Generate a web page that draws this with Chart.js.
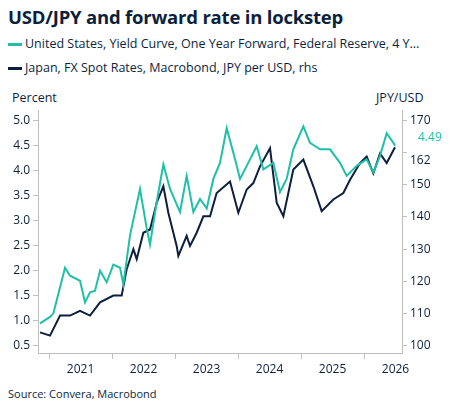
<!DOCTYPE html>
<html><head><meta charset="utf-8">
<script src="https://cdn.jsdelivr.net/npm/chart.js@4"></script>
<style>
body{margin:0;width:455px;height:416px;font-family:"Open Sans",sans-serif;color:#0c1f3d;background:#fff;position:relative;overflow:hidden}
.t{position:absolute;left:8px;top:4px;font-size:18.5px;font-weight:bold;letter-spacing:-0.2px}
.l{position:absolute;left:8px;font-size:12.5px;white-space:nowrap}
.l span{display:inline-block;width:14px;height:3px;vertical-align:middle;margin-right:3px}
.a{position:absolute;top:89px;font-size:12.5px}
.s{position:absolute;left:8px;top:386px;font-size:11px}
#w{position:absolute;left:0;top:100px;width:455px;height:280px}
</style></head><body>
<div class="t">USD/JPY and forward rate in lockstep</div>
<div class="l" style="top:35px"><span style="background:#20c0a8"></span>United States, Yield Curve, One Year Forward, Federal Reserve, 4 Y...</div>
<div class="l" style="top:59px"><span style="background:#0c1f3d"></span>Japan, FX Spot Rates, Macrobond, JPY per USD, rhs</div>
<div class="a" style="left:12px">Percent</div>
<div class="a" style="left:376px">JPY/USD</div>
<div class="s">Source: Convera, Macrobond</div>
<div id="w"><canvas id="c"></canvas></div>
<script>
const usDates=[2020.857,2021.016,2021.069,2021.175,2021.254,2021.333,2021.492,2021.571,2021.651,2021.730,2021.810,2021.915,2022.021,2022.127,2022.180,2022.286,2022.444,2022.550,2022.603,2022.709,2022.815,2022.921,2023.079,2023.185,2023.291,2023.397,2023.503,2023.608,2023.714,2023.820,2023.926,2024.032,2024.138,2024.296,2024.402,2024.561,2024.667,2024.772,2024.878,2025.037,2025.143,2025.302,2025.460,2025.619,2025.725,2025.884,2026.042,2026.148,2026.254,2026.360,2026.466,2026.492];
const usValues=[0.95,1.08,1.15,1.67,2.06,1.90,1.80,1.37,1.57,1.60,2.00,1.77,2.12,2.06,1.73,2.71,3.63,2.85,2.52,3.37,4.12,3.63,3.17,3.89,3.17,3.43,3.24,3.83,4.15,4.84,4.35,3.83,4.09,4.48,4.02,4.15,3.57,3.83,4.42,4.88,4.55,4.42,4.42,4.15,3.89,4.09,4.22,3.96,4.29,4.74,4.55,4.49];
const jpDates=[2020.857,2021.016,2021.175,2021.333,2021.492,2021.651,2021.810,2022.021,2022.153,2022.233,2022.339,2022.392,2022.497,2022.603,2022.709,2022.815,2022.894,2023.026,2023.053,2023.185,2023.238,2023.344,2023.450,2023.556,2023.661,2023.873,2024.005,2024.138,2024.243,2024.349,2024.508,2024.614,2024.720,2024.878,2025.037,2025.196,2025.328,2025.513,2025.672,2025.778,2025.937,2026.042,2026.148,2026.254,2026.360,2026.492];
const jpValues=[104.2,103.2,109.4,109.4,110.9,109.4,113.5,115.6,115.6,123.8,130,126.9,135.1,136.1,144.4,149.5,141.3,131,127.9,134.1,131,135.1,140.2,140.2,147.4,151,141.3,148.5,150.5,155.7,161.3,144.4,140.2,154.7,157.8,149.5,141.8,145.4,147.4,151.5,156.7,158.7,153.5,159.7,156.7,161.6];
const years=[2021,2022,2023,2024,2025,2026];
const rightTicks=[100,110,120,130,140,150,160,170];
const TEAL='#20c0a8',DARK='#0c1f3d',AX='#bfbfbf',TXT='#0c1f3d';
const pts=(xs,ys)=>xs.map((x,i)=>({x,y:ys[i]}));
const endLabels={id:'end',afterDraw(c){const g=c.ctx;g.save();g.font='12px "Open Sans"';g.textBaseline='middle';
 g.fillStyle=TEAL;g.fillText(usValues[usValues.length-1].toFixed(2),c.chartArea.right+16,c.scales.y.getPixelForValue(usValues[usValues.length-1])-8);
 g.fillStyle=DARK;g.fillText(Math.round(jpValues[jpValues.length-1]),c.chartArea.right+8,c.scales.y2.getPixelForValue(jpValues[jpValues.length-1])+13);g.restore();}};
new Chart(document.getElementById('c'),{type:'line',
data:{datasets:[
{data:pts(usDates,usValues),borderColor:TEAL,borderWidth:2,pointRadius:0,yAxisID:'y',tension:0},
{data:pts(jpDates,jpValues),borderColor:DARK,borderWidth:2,pointRadius:0,yAxisID:'y2',tension:0}]},
options:{responsive:true,maintainAspectRatio:false,animation:false,layout:{padding:{top:7}},
plugins:{legend:{display:false},tooltip:{enabled:false}},
scales:{
x:{type:'linear',min:2020.825,max:2026.603,
 afterBuildTicks(s){const t=[];years.forEach(y=>{t.push({value:y});t.push({value:y+0.5});});s.ticks=t;},
 ticks:{autoSkip:false,maxRotation:0,color:TXT,font:{size:12,family:'Open Sans'},callback:v=>(v%1)?String(Math.floor(v)):''},
 grid:{drawOnChartArea:false,tickLength:6,color:c=>c.tick&&c.tick.value%1?'rgba(0,0,0,0)':AX},border:{color:AX},afterFit(s){s.height=27;}},
y:{position:'left',min:0.36,max:5.2,afterBuildTicks(s){s.ticks=[0.5,1,1.5,2,2.5,3,3.5,4,4.5,5].map(v=>({value:v}));},
 ticks:{color:TXT,font:{size:12,family:'Open Sans'},callback:v=>v.toFixed(1)},grid:{drawOnChartArea:false,tickLength:5,color:AX},border:{color:AX},afterFit(s){s.width=38;}},
y2:{position:'right',min:97.8,max:173.1,afterBuildTicks(s){s.ticks=rightTicks.map(v=>({value:v}));},
 ticks:{color:TXT,font:{size:12,family:'Open Sans'},callback:v=>v===160?'':String(v)},grid:{drawOnChartArea:false,tickLength:5,color:AX},border:{color:AX},afterFit(s){s.width=53;}}
}},plugins:[endLabels]});
</script></body></html>
